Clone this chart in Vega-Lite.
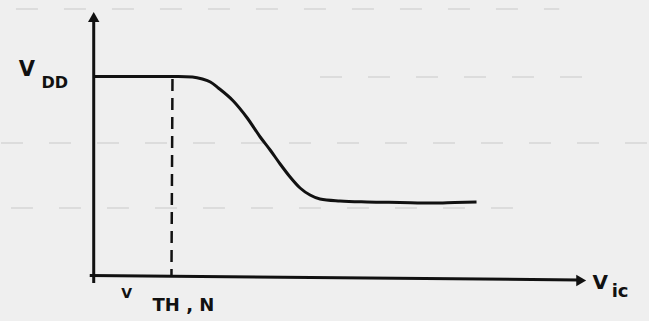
{
  "$schema": "https://vega.github.io/schema/vega-lite/v6.json",
  "width": 649,
  "height": 321,
  "padding": 0,
  "autosize": {"type": "fit", "contains": "padding"},
  "background": "#efefef",
  "config": {"view": {"stroke": null}},
  "datasets": {
    "guides": [
      {"x": 15, "x2": 560, "y": 9, "y2": 9},
      {"x": 0, "x2": 649, "y": 143, "y2": 143},
      {"x": 10, "x2": 520, "y": 208, "y2": 208},
      {"x": 320, "x2": 600, "y": 77, "y2": 77}
    ],
    "axes": [
      {"x": 93, "x2": 93, "y": 283, "y2": 16},
      {"x": 89, "x2": 580, "y": 275.5, "y2": 280}
    ],
    "arrows": [
      {"x": 93, "y": 17, "shape": "triangle-up"},
      {"x": 582, "y": 280.5, "shape": "triangle-right"}
    ],
    "curve": [
      {"x": 93, "y": 76.5},
      {"x": 150, "y": 76.5},
      {"x": 178, "y": 76.5},
      {"x": 192, "y": 77},
      {"x": 202, "y": 79},
      {"x": 210, "y": 82},
      {"x": 218, "y": 88},
      {"x": 233, "y": 101},
      {"x": 247, "y": 118},
      {"x": 260, "y": 137},
      {"x": 270, "y": 150},
      {"x": 280, "y": 164},
      {"x": 290, "y": 177},
      {"x": 300, "y": 188},
      {"x": 310, "y": 195},
      {"x": 320, "y": 199},
      {"x": 340, "y": 201},
      {"x": 367, "y": 202},
      {"x": 400, "y": 202.5},
      {"x": 433, "y": 203},
      {"x": 455, "y": 202.5},
      {"x": 477, "y": 202}
    ],
    "vline": [{"x": 172, "x2": 171, "y": 79, "y2": 275}],
    "labels": [
      {"x": 26, "y": 70, "t": "V", "s": 21},
      {"x": 54, "y": 83, "t": "DD", "s": 16},
      {"x": 126, "y": 294, "t": "V", "s": 14},
      {"x": 183, "y": 306, "t": "TH , N", "s": 18},
      {"x": 601, "y": 283, "t": "V", "s": 20},
      {"x": 621, "y": 292, "t": "ic", "s": 18}
    ]
  },
  "layer": [
    {
      "data": {"name": "guides"},
      "mark": {"type": "rule", "color": "#d6d6d6", "strokeWidth": 1.5, "strokeDash": [22, 26]},
      "encoding": {
        "x": {"field": "x", "type": "quantitative", "scale": {"domain": [0, 649], "nice": false, "zero": false}, "axis": null},
        "x2": {"field": "x2"},
        "y": {"field": "y", "type": "quantitative", "scale": {"domain": [321, 0], "nice": false, "zero": false}, "axis": null},
        "y2": {"field": "y2"}
      }
    },
    {
      "data": {"name": "axes"},
      "mark": {"type": "rule", "color": "#111111", "strokeWidth": 3},
      "encoding": {
        "x": {"field": "x", "type": "quantitative"},
        "x2": {"field": "x2"},
        "y": {"field": "y", "type": "quantitative"},
        "y2": {"field": "y2"}
      }
    },
    {
      "data": {"name": "arrows"},
      "mark": {"type": "point", "filled": true, "color": "#111111", "size": 130, "opacity": 1},
      "encoding": {
        "x": {"field": "x", "type": "quantitative"},
        "y": {"field": "y", "type": "quantitative"},
        "shape": {"field": "shape", "type": "nominal", "scale": null, "legend": null}
      }
    },
    {
      "data": {"name": "curve"},
      "mark": {"type": "line", "color": "#111111", "strokeWidth": 3, "interpolate": "monotone"},
      "encoding": {
        "x": {"field": "x", "type": "quantitative"},
        "y": {"field": "y", "type": "quantitative"}
      }
    },
    {
      "data": {"name": "vline"},
      "mark": {"type": "rule", "color": "#111111", "strokeWidth": 2.5, "strokeDash": [12, 7]},
      "encoding": {
        "x": {"field": "x", "type": "quantitative"},
        "x2": {"field": "x2"},
        "y": {"field": "y", "type": "quantitative"},
        "y2": {"field": "y2"}
      }
    },
    {
      "data": {"name": "labels"},
      "mark": {"type": "text", "color": "#111111", "font": "DejaVu Sans", "fontWeight": "bold", "align": "center", "baseline": "middle"},
      "encoding": {
        "x": {"field": "x", "type": "quantitative"},
        "y": {"field": "y", "type": "quantitative"},
        "text": {"field": "t"},
        "size": {"field": "s", "type": "quantitative", "scale": null, "legend": null}
      }
    }
  ]
}
